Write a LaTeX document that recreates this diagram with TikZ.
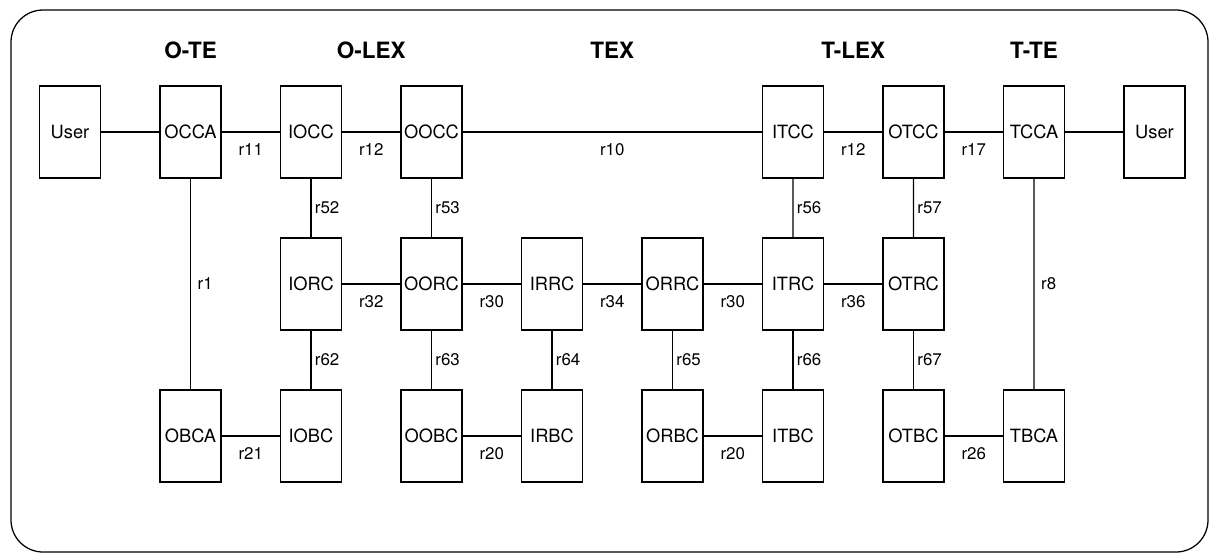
\documentclass[tikz,border=0pt]{standalone}
\usepackage{fontspec}
\setmainfont{TeX Gyre Heros}
\usepackage{tikz}
\usetikzlibrary{positioning,calc}

\begin{document}
\begin{tikzpicture}[
    block/.style={draw, line width=1.4pt, minimum width=1.525cm, minimum height=2.3cm, inner sep=0.5pt, font=\fontsize{13}{15}\selectfont},
    heading/.style={font=\fontsize{16}{19}\selectfont\bfseries},
    rlabel/.style={font=\fontsize{12}{14}\selectfont, inner sep=1pt},
    link/.style={line width=0.8pt},
    on grid,
    node distance=3.8cm and 3.0125cm
]
    % Frame
    \useasboundingbox (0,0) rectangle (30.25,-13.85);
    \draw[line width=0.9pt, rounded corners=0.8cm] (0.275,-0.25) rectangle (30.2,-13.8);

    % Top row
    \node[block] (user1) at (1.75,-3.3) {User};
    \node[block, right=of user1] (occa) {OCCA};
    \node[block, right=of occa] (iocc) {IOCC};
    \node[block, right=of iocc] (oocc) {OOCC};
    \node[block, right=9.0375cm of oocc] (itcc) {ITCC};
    \node[block, right=of itcc] (otcc) {OTCC};
    \node[block, right=of otcc] (tcca) {TCCA};
    \node[block, right=of tcca] (user2) {User};

    % Middle row
    \node[block, below=of iocc] (iorc) {IORC};
    \node[block, right=of iorc] (oorc) {OORC};
    \node[block, right=of oorc] (irrc) {IRRC};
    \node[block, right=of irrc] (orrc) {ORRC};
    \node[block, right=of orrc] (itrc) {ITRC};
    \node[block, right=of itrc] (otrc) {OTRC};

    % Bottom row
    \node[block, below=7.6cm of occa] (obca) {OBCA};
    \node[block, right=of obca] (iobc) {IOBC};
    \node[block, right=of iobc] (oobc) {OOBC};
    \node[block, right=of oobc] (irbc) {IRBC};
    \node[block, right=of irbc] (orbc) {ORBC};
    \node[block, right=of orbc] (itbc) {ITBC};
    \node[block, right=of itbc] (otbc) {OTBC};
    \node[block, right=of otbc] (tbca) {TBCA};

    % Headings
    \node[heading, above=2.05cm of occa] (ote) {O-TE};
    \node[heading] (olex) at ($(iocc)!0.5!(oocc)+(0,2.05)$) {O-LEX};
    \node[heading] (tex) at ($(oocc)!0.5!(itcc)+(0,2.05)$) {TEX};
    \node[heading] (tlex) at ($(itcc)!0.5!(otcc)+(0,2.05)$) {T-LEX};
    \node[heading, above=2.05cm of tcca] (tte) {T-TE};

    % Top links
    \draw[link] (user1) -- (occa);
    \draw[link] (occa) -- node[rlabel, below=0.25cm] {r11} (iocc);
    \draw[link] (iocc) -- node[rlabel, below=0.25cm] {r12} (oocc);
    \draw[link] (oocc) -- node[rlabel, below=0.25cm] {r10} (itcc);
    \draw[link] (itcc) -- node[rlabel, below=0.25cm] {r12} (otcc);
    \draw[link] (otcc) -- node[rlabel, below=0.25cm] {r17} (tcca);
    \draw[link] (tcca) -- (user2);

    % Middle links
    \draw[link] (iorc) -- node[rlabel, below=0.25cm] {r32} (oorc);
    \draw[link] (oorc) -- node[rlabel, below=0.25cm] {r30} (irrc);
    \draw[link] (irrc) -- node[rlabel, below=0.25cm] {r34} (orrc);
    \draw[link] (orrc) -- node[rlabel, below=0.25cm] {r30} (itrc);
    \draw[link] (itrc) -- node[rlabel, below=0.25cm] {r36} (otrc);

    % Bottom links
    \draw[link] (obca) -- node[rlabel, below=0.25cm] {r21} (iobc);
    \draw[link] (oobc) -- node[rlabel, below=0.25cm] {r20} (irbc);
    \draw[link] (orbc) -- node[rlabel, below=0.25cm] {r20} (itbc);
    \draw[link] (otbc) -- node[rlabel, below=0.25cm] {r26} (tbca);

    % Vertical links
    \draw[link] (occa) -- node[rlabel, right=0.13cm] {r1} (obca);
    \draw[link] (tcca) -- node[rlabel, right=0.13cm] {r8} (tbca);
    \draw[link] (iocc) -- node[rlabel, right=0.05cm] {r52} (iorc);
    \draw[link] (oocc) -- node[rlabel, right=0.05cm] {r53} (oorc);
    \draw[link] (itcc) -- node[rlabel, right=0.05cm] {r56} (itrc);
    \draw[link] (otcc) -- node[rlabel, right=0.05cm] {r57} (otrc);
    \draw[link] (iorc) -- node[rlabel, right=0.05cm] {r62} (iobc);
    \draw[link] (oorc) -- node[rlabel, right=0.05cm] {r63} (oobc);
    \draw[link] (irrc) -- node[rlabel, right=0.05cm] {r64} (irbc);
    \draw[link] (orrc) -- node[rlabel, right=0.05cm] {r65} (orbc);
    \draw[link] (itrc) -- node[rlabel, right=0.05cm] {r66} (itbc);
    \draw[link] (otrc) -- node[rlabel, right=0.05cm] {r67} (otbc);
\end{tikzpicture}
\end{document}
